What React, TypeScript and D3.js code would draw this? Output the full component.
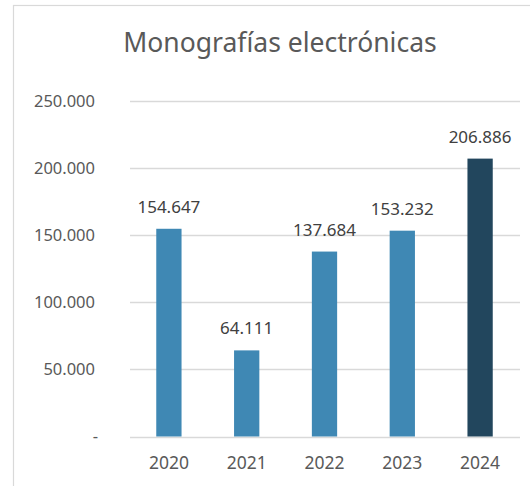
import React, { useEffect, useRef } from 'react';
import * as d3 from 'd3';

const years = ['2020', '2021', '2022', '2023', '2024'];
const values = [154647, 64111, 137684, 153232, 206886];
const tickValues = [0, 50000, 100000, 150000, 200000, 250000];
const title = 'Monografías electrónicas';

const W = 530, H = 486;
const FONT = '"Noto Sans", "Open Sans", sans-serif';
const TEXT = '#595959';

// es-style number format: 154.647
const fmt = (v: number) => d3.format(',')(v).replace(/,/g, '.');

function draw(node: SVGSVGElement) {
  const svg = d3.select(node);
  svg.selectAll('*').remove();

  const x = d3.scaleBand<string>()
    .domain(years)
    .range([130, 519])
    .paddingInner(0.675)
    .paddingOuter(0.3375);

  const y = d3.scaleLinear()
    .domain([0, 250000])
    .range([436.5, 100.7]);

  // chart frame
  svg.append('rect')
    .attr('x', 13.5).attr('y', 5.5)
    .attr('width', 560).attr('height', 520)
    .attr('fill', '#fff')
    .attr('stroke', '#d9d9d9')
    .attr('stroke-width', 1.2);

  svg.append('text')
    .attr('x', 280).attr('y', 52)
    .attr('text-anchor', 'middle')
    .attr('font-family', FONT)
    .attr('font-size', 26.5)
    .attr('fill', TEXT)
    .text(title);

  // gridlines
  svg.append('g')
    .selectAll('line')
    .data(tickValues)
    .join('line')
    .attr('x1', 130).attr('x2', 520)
    .attr('y1', d => Math.round(y(d)) + 0.5)
    .attr('y2', d => Math.round(y(d)) + 0.5)
    .attr('stroke', '#d9d9d9')
    .attr('stroke-width', 1.3);

  // y tick labels
  svg.append('g')
    .selectAll('text')
    .data(tickValues)
    .join('text')
    .attr('x', d => d === 0 ? 98 : 95)
    .attr('y', d => y(d))
    .attr('dy', '0.36em')
    .attr('text-anchor', 'end')
    .attr('font-family', FONT)
    .attr('font-size', 16.5)
    .attr('fill', TEXT)
    .text(d => d === 0 ? '-' : fmt(d));

  // bars
  svg.append('g')
    .selectAll('rect')
    .data(values)
    .join('rect')
    .attr('x', (d, i) => x(years[i])!)
    .attr('y', d => y(d))
    .attr('width', x.bandwidth())
    .attr('height', d => y(0) - y(d))
    .attr('fill', (d, i) => i === years.length - 1 ? '#22465d' : '#3f88b4');

  // data labels
  svg.append('g')
    .selectAll('text')
    .data(values)
    .join('text')
    .attr('x', (d, i) => x(years[i])! + x.bandwidth() / 2)
    .attr('y', d => y(d) - 16)
    .attr('text-anchor', 'middle')
    .attr('font-family', FONT)
    .attr('font-size', 17)
    .attr('fill', '#404040')
    .text(d => fmt(d));

  // x labels
  svg.append('g')
    .selectAll('text')
    .data(years)
    .join('text')
    .attr('x', d => x(d)! + x.bandwidth() / 2)
    .attr('y', 469)
    .attr('text-anchor', 'middle')
    .attr('font-family', FONT)
    .attr('font-size', 17.5)
    .attr('fill', TEXT)
    .text(d => d);
}

export default function App() {
  const ref = useRef<SVGSVGElement>(null);

  useEffect(() => {
    if (ref.current) draw(ref.current);
  }, []);

  return (
    <svg ref={ref} width={W} height={H}
      style={{ position: 'absolute', left: 0, top: 0, background: '#fff' }} />
  );
}
